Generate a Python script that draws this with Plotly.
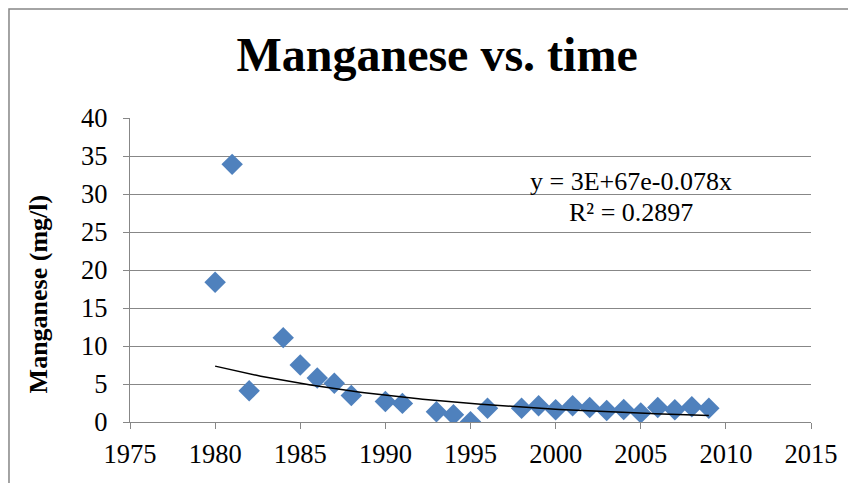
import numpy as np
import plotly.graph_objects as go

# ---- data ----
years = [1980, 1981, 1982, 1984, 1985, 1986, 1987, 1988, 1990, 1991, 1993, 1994, 1995,
         1996, 1998, 1999, 2000, 2001, 2002, 2003, 2004, 2005, 2006, 2007, 2008, 2009]
manganese = [18.4, 33.9, 4.1, 11.1, 7.5, 5.8, 5.1, 3.5, 2.7, 2.45, 1.35, 0.95, 0.03,
             1.8, 1.8, 2.15, 1.6, 2.15, 1.9, 1.5, 1.65, 1.2, 1.9, 1.6, 2.0, 1.8]
x_ticks = [1975, 1980, 1985, 1990, 1995, 2000, 2005, 2010, 2015]
y_ticks = [0, 5, 10, 15, 20, 25, 30, 35, 40]
title_text = "Manganese vs. time"
y_title = "Manganese (mg/l)"
eq_line1 = "y = 3E+67e-0.078x"
eq_line2 = "R² = 0.2897"

# exponential trendline fitted to the data (as Excel does: least squares on ln y)
yrs = np.array(years, dtype=float)
b, ln_a = np.polyfit(yrs - yrs[0], np.log(np.array(manganese)), 1)
trend_x = np.linspace(yrs.min(), yrs.max(), 120)
trend_y = np.exp(ln_a + b * (trend_x - yrs[0]))

FONT = "Times New Roman, Liberation Serif, serif"
GRID = "#878787"

fig = go.Figure()
fig.add_trace(go.Scatter(
    x=years, y=manganese, mode="markers",
    marker=dict(symbol="diamond", size=16.5, color="#4F81BD", line=dict(width=0)),
    showlegend=False, hoverinfo="x+y"))
fig.add_trace(go.Scatter(
    x=trend_x, y=trend_y, mode="lines",
    line=dict(color="black", width=1.5), showlegend=False, hoverinfo="skip"))

fig.update_layout(
    width=848, height=475,
    margin=dict(l=122, r=45, t=110, b=61, autoexpand=False),
    paper_bgcolor="white", plot_bgcolor="white",
    font=dict(family=FONT, color="black", size=26),
    title=dict(text="<b>" + title_text + "</b>", font=dict(family=FONT, size=48, color="black"),
               xref="container", x=0.506, xanchor="center",
               yref="container", y=0.903, yanchor="middle"),
    xaxis=dict(range=[1975, 2015], tickvals=x_ticks, ticktext=[str(v) for v in x_ticks],
               showgrid=False, zeroline=False, showline=True, linecolor=GRID, linewidth=1.3,
               ticks="outside", ticklen=6, tickcolor=GRID, tickwidth=1.3,
               tickfont=dict(family=FONT, size=26.5, color="black"),
               ticklabelstandoff=2),
    yaxis=dict(range=[0, 40], tickvals=y_ticks, ticktext=[str(v) for v in y_ticks],
               showgrid=True, gridcolor=GRID, gridwidth=1.3, zeroline=False,
               showline=True, linecolor=GRID, linewidth=1.3,
               ticks="outside", ticklen=6, tickcolor=GRID, tickwidth=1.3,
               tickfont=dict(family=FONT, size=26.5, color="black"),
               ticklabelstandoff=10),
    annotations=[
        dict(text="<b>" + y_title + "</b>", textangle=-90, xref="paper", yref="paper",
             x=-0.135, y=0.42, xanchor="center", yanchor="middle", showarrow=False,
             font=dict(family=FONT, size=26, color="black")),
        dict(text=eq_line1, xref="x", yref="y", x=2004.4, y=31.6, xanchor="center",
             yanchor="middle", showarrow=False,
             font=dict(family=FONT, size=26, color="black")),
        dict(text=eq_line2, xref="x", yref="y", x=2004.4, y=27.6, xanchor="center",
             yanchor="middle", showarrow=False,
             font=dict(family=FONT, size=26, color="black")),
    ],
    shapes=[dict(type="rect", xref="paper", yref="paper", x0=-0.1777, x1=1.2,
                 y0=-0.3, y1=1.3586, line=dict(color="#868686", width=1.5),
                 fillcolor="rgba(0,0,0,0)", layer="below")],
)

fig.write_html("out.html")
